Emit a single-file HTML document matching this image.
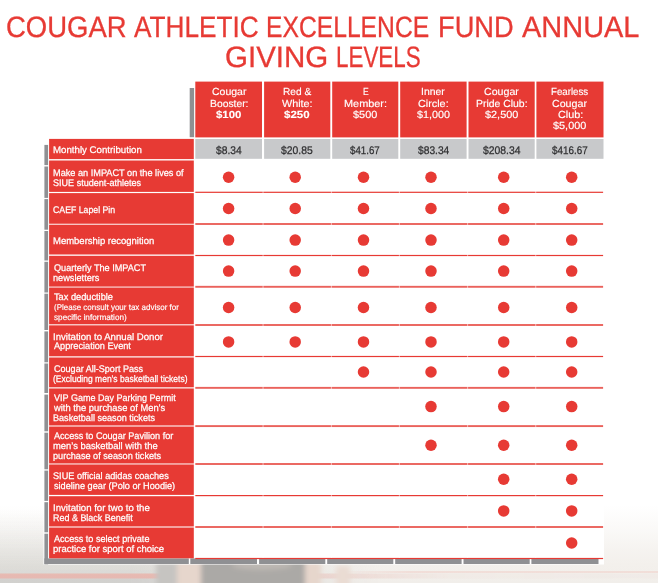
<!DOCTYPE html>
<html><head><meta charset="utf-8"><title>CAEF Giving Levels</title>
<style>
html,body{margin:0;padding:0;}
body{width:658px;height:583px;position:relative;overflow:hidden;background:#fff;font-family:"Liberation Sans",sans-serif;text-rendering:geometricPrecision;}
.bg{position:absolute;left:0;top:0;width:658px;height:583px;}
svg{position:absolute;left:0;top:0;}
.t{position:absolute;white-space:pre;transform-origin:0 0;display:block;}
</style></head><body>
<div class="bg" style="background:linear-gradient(to bottom,rgba(243,240,236,0) 505px,rgba(243,240,236,.4) 530px,rgba(243,240,236,.8) 550px,rgba(243,240,236,1) 564px,rgba(241,238,234,1) 583px);"></div>
<div class="bg" style="background:linear-gradient(to bottom,rgba(208,208,204,0) 510px,rgba(208,208,204,.1) 525px,rgba(208,208,204,.3) 545px,rgba(208,208,204,.6) 566px,rgba(208,208,204,.7) 574px,rgba(206,205,203,.9) 580px,rgba(206,205,203,.9) 583px);-webkit-mask-image:linear-gradient(to right,#000 0,#000 130px,rgba(0,0,0,.5) 250px,transparent 380px);mask-image:linear-gradient(to right,#000 0,#000 130px,rgba(0,0,0,.5) 250px,transparent 380px);"></div>
<div class="bg" style="background:linear-gradient(to bottom,rgba(232,182,174,0) 572.5px,rgba(232,182,174,.9) 574.5px,rgba(232,182,174,.9) 577.5px,rgba(232,182,174,0) 579.5px);-webkit-mask-image:linear-gradient(to right,#000 0,#000 150px,rgba(0,0,0,.4) 340px,rgba(0,0,0,.08) 450px,rgba(0,0,0,.05) 658px);mask-image:linear-gradient(to right,#000 0,#000 150px,rgba(0,0,0,.4) 340px,rgba(0,0,0,.08) 450px,rgba(0,0,0,.05) 658px);"></div>
<div style="position:absolute;left:330px;top:571px;width:328px;height:1.6px;background:linear-gradient(to right,rgba(240,190,182,0),rgba(240,190,182,.35) 80px,rgba(240,190,182,.35))"></div>
<svg width="658" height="583" viewBox="0 0 658 583">
<defs><filter id="bl" x="-20%" y="-20%" width="140%" height="140%"><feGaussianBlur stdDeviation="2.4"/></filter></defs>
<g filter="url(#bl)">
<rect x="156" y="562" width="22" height="30" fill="#C6C4C1"/>
<rect x="177" y="562" width="25" height="30" fill="#E6D6CC"/>
<rect x="304" y="562" width="17" height="30" fill="#E6D6CC"/>
<rect x="336" y="566" width="14" height="30" fill="#EADCD3"/>
<rect x="201" y="560" width="104" height="30" fill="#ABA9A6"/>
<ellipse cx="262" cy="565" rx="30" ry="5" fill="#BDB8B3"/>
</g>
<rect x="43.5" y="138.7" width="560.5" height="425.8" fill="#fff"/>
<rect x="189" y="81.6" width="415" height="60" fill="#fff"/>
<rect x="44.4" y="144.9" width="3.7" height="20.2" fill="#8F9093"/>
<rect x="44.4" y="166.5" width="3.7" height="31.4" fill="#8F9093"/>
<rect x="44.4" y="199.1" width="3.7" height="30.6" fill="#8F9093"/>
<rect x="44.4" y="231.0" width="3.7" height="29.5" fill="#8F9093"/>
<rect x="44.4" y="261.8" width="3.7" height="30.7" fill="#8F9093"/>
<rect x="44.4" y="293.7" width="3.7" height="36.3" fill="#8F9093"/>
<rect x="44.4" y="331.4" width="3.7" height="30.9" fill="#8F9093"/>
<rect x="44.4" y="363.5" width="3.7" height="29.5" fill="#8F9093"/>
<rect x="44.4" y="394.6" width="3.7" height="36.7" fill="#8F9093"/>
<rect x="44.4" y="432.7" width="3.7" height="36.6" fill="#8F9093"/>
<rect x="44.4" y="470.6" width="3.7" height="30.3" fill="#8F9093"/>
<rect x="44.4" y="502.2" width="3.7" height="30.1" fill="#8F9093"/>
<rect x="44.4" y="533.7" width="3.7" height="30.6" fill="#8F9093"/>
<rect x="44.4" y="558.4" width="144.4" height="5.6" fill="#8F9093"/>
<rect x="190.3" y="558.4" width="66.7" height="5.6" fill="#8F9093"/>
<rect x="259.1" y="558.4" width="66.2" height="5.6" fill="#8F9093"/>
<rect x="327.2" y="558.4" width="66.1" height="5.6" fill="#8F9093"/>
<rect x="395.2" y="558.4" width="66.4" height="5.6" fill="#8F9093"/>
<rect x="463.5" y="558.4" width="66.2" height="5.6" fill="#8F9093"/>
<rect x="531.4" y="558.4" width="67.1" height="5.6" fill="#8F9093"/>
<rect x="189.7" y="88.0" width="4.4" height="49.2" fill="#8F9093"/>
<rect x="195.3" y="81.6" width="66.7" height="55.8" fill="#E73A34"/>
<rect x="195.3" y="139.0" width="66.7" height="19.8" fill="#C8C9CB"/>
<rect x="264.1" y="81.6" width="66.2" height="55.8" fill="#E73A34"/>
<rect x="264.1" y="139.0" width="66.2" height="19.8" fill="#C8C9CB"/>
<rect x="332.2" y="81.6" width="66.1" height="55.8" fill="#E73A34"/>
<rect x="332.2" y="139.0" width="66.1" height="19.8" fill="#C8C9CB"/>
<rect x="400.2" y="81.6" width="66.4" height="55.8" fill="#E73A34"/>
<rect x="400.2" y="139.0" width="66.4" height="19.8" fill="#C8C9CB"/>
<rect x="468.5" y="81.6" width="66.2" height="55.8" fill="#E73A34"/>
<rect x="468.5" y="139.0" width="66.2" height="19.8" fill="#C8C9CB"/>
<rect x="536.4" y="81.6" width="67.1" height="55.8" fill="#E73A34"/>
<rect x="536.4" y="139.0" width="67.1" height="19.8" fill="#C8C9CB"/>
<rect x="49.1" y="138.9" width="144.7" height="20.2" fill="#E73A34"/>
<rect x="49.1" y="160.5" width="144.7" height="31.4" fill="#E73A34"/>
<rect x="49.1" y="193.1" width="144.7" height="30.6" fill="#E73A34"/>
<rect x="49.1" y="225.0" width="144.7" height="29.5" fill="#E73A34"/>
<rect x="49.1" y="255.8" width="144.7" height="30.7" fill="#E73A34"/>
<rect x="49.1" y="287.7" width="144.7" height="36.3" fill="#E73A34"/>
<rect x="49.1" y="325.4" width="144.7" height="30.9" fill="#E73A34"/>
<rect x="49.1" y="357.5" width="144.7" height="29.5" fill="#E73A34"/>
<rect x="49.1" y="388.6" width="144.7" height="36.7" fill="#E73A34"/>
<rect x="49.1" y="426.7" width="144.7" height="36.6" fill="#E73A34"/>
<rect x="49.1" y="464.6" width="144.7" height="30.3" fill="#E73A34"/>
<rect x="49.1" y="496.2" width="144.7" height="30.1" fill="#E73A34"/>
<rect x="49.1" y="527.7" width="144.7" height="30.6" fill="#E73A34"/>
<rect x="49.1" y="223.60" width="144.7" height="1.50" fill="#E73A34" opacity="0.3"/>
<rect x="49.1" y="286.40" width="144.7" height="1.40" fill="#E73A34" opacity="0.3"/>
<rect x="49.1" y="323.90" width="144.7" height="1.60" fill="#E73A34" opacity="0.3"/>
<rect x="49.1" y="386.90" width="144.7" height="1.80" fill="#E73A34" opacity="0.3"/>
<rect x="49.1" y="425.20" width="144.7" height="1.60" fill="#E73A34" opacity="0.3"/>
<rect x="49.1" y="463.20" width="144.7" height="1.50" fill="#E73A34" opacity="0.3"/>
<rect x="49.1" y="526.20" width="144.7" height="1.60" fill="#E73A34" opacity="0.3"/>
<rect x="195.3" y="191.70" width="407.8" height="1.2" fill="#E73A34"/>
<rect x="195.3" y="223.05" width="407.8" height="1.9" fill="#EA625C"/>
<rect x="195.3" y="254.90" width="407.8" height="1.2" fill="#E73A34"/>
<rect x="195.3" y="285.85" width="407.8" height="1.9" fill="#EA625C"/>
<rect x="195.3" y="324.05" width="407.8" height="1.9" fill="#EA625C"/>
<rect x="195.3" y="355.90" width="407.8" height="1.2" fill="#E73A34"/>
<rect x="195.3" y="386.90" width="407.8" height="1.9" fill="#EA625C"/>
<rect x="195.3" y="425.15" width="407.8" height="1.9" fill="#EA625C"/>
<rect x="195.3" y="463.05" width="407.8" height="1.9" fill="#EA625C"/>
<rect x="195.3" y="495.00" width="407.8" height="1.2" fill="#E73A34"/>
<rect x="195.3" y="526.05" width="407.8" height="1.9" fill="#EA625C"/>
<rect x="195.3" y="557.90" width="407.8" height="1.2" fill="#E73A34"/>
<rect x="262.6" y="159" width="0.9" height="399" fill="#fff" opacity="0.6"/>
<rect x="330.9" y="159" width="0.9" height="399" fill="#fff" opacity="0.6"/>
<rect x="398.9" y="159" width="0.9" height="399" fill="#fff" opacity="0.6"/>
<rect x="467.2" y="159" width="0.9" height="399" fill="#fff" opacity="0.6"/>
<rect x="535.3" y="159" width="0.9" height="399" fill="#fff" opacity="0.6"/>
<circle cx="228.6" cy="177.3" r="5.75" fill="#E73A34"/>
<circle cx="295.2" cy="177.3" r="5.75" fill="#E73A34"/>
<circle cx="363.5" cy="177.3" r="5.75" fill="#E73A34"/>
<circle cx="431.0" cy="177.3" r="5.75" fill="#E73A34"/>
<circle cx="503.7" cy="177.3" r="5.75" fill="#E73A34"/>
<circle cx="571.7" cy="177.3" r="5.75" fill="#E73A34"/>
<circle cx="228.6" cy="208.5" r="5.75" fill="#E73A34"/>
<circle cx="295.2" cy="208.5" r="5.75" fill="#E73A34"/>
<circle cx="363.5" cy="208.5" r="5.75" fill="#E73A34"/>
<circle cx="431.0" cy="208.5" r="5.75" fill="#E73A34"/>
<circle cx="503.7" cy="208.5" r="5.75" fill="#E73A34"/>
<circle cx="571.7" cy="208.5" r="5.75" fill="#E73A34"/>
<circle cx="228.6" cy="240.1" r="5.75" fill="#E73A34"/>
<circle cx="295.2" cy="240.1" r="5.75" fill="#E73A34"/>
<circle cx="363.5" cy="240.1" r="5.75" fill="#E73A34"/>
<circle cx="431.0" cy="240.1" r="5.75" fill="#E73A34"/>
<circle cx="503.7" cy="240.1" r="5.75" fill="#E73A34"/>
<circle cx="571.7" cy="240.1" r="5.75" fill="#E73A34"/>
<circle cx="228.6" cy="271.1" r="5.75" fill="#E73A34"/>
<circle cx="295.2" cy="271.1" r="5.75" fill="#E73A34"/>
<circle cx="363.5" cy="271.1" r="5.75" fill="#E73A34"/>
<circle cx="431.0" cy="271.1" r="5.75" fill="#E73A34"/>
<circle cx="503.7" cy="271.1" r="5.75" fill="#E73A34"/>
<circle cx="571.7" cy="271.1" r="5.75" fill="#E73A34"/>
<circle cx="228.6" cy="307.5" r="5.75" fill="#E73A34"/>
<circle cx="295.2" cy="307.5" r="5.75" fill="#E73A34"/>
<circle cx="363.5" cy="307.5" r="5.75" fill="#E73A34"/>
<circle cx="431.0" cy="307.5" r="5.75" fill="#E73A34"/>
<circle cx="503.7" cy="307.5" r="5.75" fill="#E73A34"/>
<circle cx="571.7" cy="307.5" r="5.75" fill="#E73A34"/>
<circle cx="228.6" cy="341.9" r="5.75" fill="#E73A34"/>
<circle cx="295.2" cy="341.9" r="5.75" fill="#E73A34"/>
<circle cx="363.5" cy="341.9" r="5.75" fill="#E73A34"/>
<circle cx="431.0" cy="341.9" r="5.75" fill="#E73A34"/>
<circle cx="503.7" cy="341.9" r="5.75" fill="#E73A34"/>
<circle cx="571.7" cy="341.9" r="5.75" fill="#E73A34"/>
<circle cx="363.5" cy="372.0" r="5.75" fill="#E73A34"/>
<circle cx="431.0" cy="372.0" r="5.75" fill="#E73A34"/>
<circle cx="503.7" cy="372.0" r="5.75" fill="#E73A34"/>
<circle cx="571.7" cy="372.0" r="5.75" fill="#E73A34"/>
<circle cx="431.0" cy="406.6" r="5.75" fill="#E73A34"/>
<circle cx="503.7" cy="406.6" r="5.75" fill="#E73A34"/>
<circle cx="571.7" cy="406.6" r="5.75" fill="#E73A34"/>
<circle cx="431.0" cy="445.3" r="5.75" fill="#E73A34"/>
<circle cx="503.7" cy="445.3" r="5.75" fill="#E73A34"/>
<circle cx="571.7" cy="445.3" r="5.75" fill="#E73A34"/>
<circle cx="503.7" cy="479.2" r="5.75" fill="#E73A34"/>
<circle cx="571.7" cy="479.2" r="5.75" fill="#E73A34"/>
<circle cx="503.7" cy="510.9" r="5.75" fill="#E73A34"/>
<circle cx="571.7" cy="510.9" r="5.75" fill="#E73A34"/>
<circle cx="571.7" cy="543.0" r="5.75" fill="#E73A34"/>
</svg>
<span class="t" style="left:53.22px;top:146px;font-size:9.6px;line-height:9.6px;transform:scaleX(1.0094);color:#fff;-webkit-text-stroke:0.25px #fff;">Monthly Contribution</span>
<span class="t" style="left:53.27px;top:169px;font-size:9.6px;line-height:9.6px;transform:scaleX(0.9557);color:#fff;-webkit-text-stroke:0.25px #fff;">Make an IMPACT on the lives of</span>
<span class="t" style="left:53.15px;top:179px;font-size:9.6px;line-height:9.6px;transform:scaleX(0.9444);color:#fff;-webkit-text-stroke:0.25px #fff;">SIUE student-athletes</span>
<span class="t" style="left:53.26px;top:206px;font-size:9.6px;line-height:9.6px;transform:scaleX(0.9107);color:#fff;-webkit-text-stroke:0.25px #fff;">CAEF Lapel Pin</span>
<span class="t" style="left:53.24px;top:237px;font-size:9.6px;line-height:9.6px;transform:scaleX(0.9892);color:#fff;-webkit-text-stroke:0.25px #fff;">Membership recognition</span>
<span class="t" style="left:53.54px;top:264px;font-size:9.6px;line-height:9.6px;transform:scaleX(0.9521);color:#fff;-webkit-text-stroke:0.25px #fff;">Quarterly The IMPACT</span>
<span class="t" style="left:53.36px;top:274px;font-size:9.6px;line-height:9.6px;transform:scaleX(0.9575);color:#fff;-webkit-text-stroke:0.25px #fff;">newsletters</span>
<span class="t" style="left:53.82px;top:293px;font-size:9.6px;line-height:9.6px;transform:scaleX(0.9610);color:#fff;-webkit-text-stroke:0.25px #fff;">Tax deductible</span>
<span class="t" style="left:53.52px;top:303px;font-size:8.3px;line-height:8.3px;transform:scaleX(0.9637);color:#fff;-webkit-text-stroke:0.15px #fff;">(Please consult your tax advisor for</span>
<span class="t" style="left:53.75px;top:313px;font-size:8.3px;line-height:8.3px;transform:scaleX(0.9858);color:#fff;-webkit-text-stroke:0.15px #fff;">specific information)</span>
<span class="t" style="left:53.14px;top:333px;font-size:9.6px;line-height:9.6px;transform:scaleX(1.0004);color:#fff;-webkit-text-stroke:0.25px #fff;">Invitation to Annual Donor</span>
<span class="t" style="left:54.00px;top:342px;font-size:9.6px;line-height:9.6px;transform:scaleX(0.9548);color:#fff;-webkit-text-stroke:0.25px #fff;">Appreciation Event</span>
<span class="t" style="left:53.55px;top:365px;font-size:9.6px;line-height:9.6px;transform:scaleX(0.9434);color:#fff;-webkit-text-stroke:0.25px #fff;">Cougar All-Sport Pass</span>
<span class="t" style="left:53.19px;top:375px;font-size:9.6px;line-height:9.6px;transform:scaleX(0.8864);color:#fff;-webkit-text-stroke:0.25px #fff;">(Excluding men’s basketball tickets)</span>
<span class="t" style="left:53.91px;top:394px;font-size:9.6px;line-height:9.6px;transform:scaleX(0.9404);color:#fff;-webkit-text-stroke:0.25px #fff;">VIP Game Day Parking Permit</span>
<span class="t" style="left:54.00px;top:404px;font-size:9.6px;line-height:9.6px;transform:scaleX(0.9757);color:#fff;-webkit-text-stroke:0.25px #fff;">with the purchase of Men’s</span>
<span class="t" style="left:53.27px;top:414px;font-size:9.6px;line-height:9.6px;transform:scaleX(0.9470);color:#fff;-webkit-text-stroke:0.25px #fff;">Basketball season tickets</span>
<span class="t" style="left:54.00px;top:432px;font-size:9.6px;line-height:9.6px;transform:scaleX(0.9478);color:#fff;-webkit-text-stroke:0.25px #fff;">Access to Cougar Pavilion for</span>
<span class="t" style="left:53.34px;top:442px;font-size:9.6px;line-height:9.6px;transform:scaleX(0.9775);color:#fff;-webkit-text-stroke:0.25px #fff;">men’s basketball with the</span>
<span class="t" style="left:53.45px;top:452px;font-size:9.6px;line-height:9.6px;transform:scaleX(0.9521);color:#fff;-webkit-text-stroke:0.25px #fff;">purchase of season tickets</span>
<span class="t" style="left:53.14px;top:472px;font-size:9.6px;line-height:9.6px;transform:scaleX(0.9530);color:#fff;-webkit-text-stroke:0.25px #fff;">SIUE official adidas coaches</span>
<span class="t" style="left:53.73px;top:482px;font-size:9.6px;line-height:9.6px;transform:scaleX(0.9545);color:#fff;-webkit-text-stroke:0.25px #fff;">sideline gear (Polo or Hoodie)</span>
<span class="t" style="left:53.13px;top:504px;font-size:9.6px;line-height:9.6px;transform:scaleX(1.0029);color:#fff;-webkit-text-stroke:0.25px #fff;">Invitation for two to the</span>
<span class="t" style="left:53.28px;top:514px;font-size:9.6px;line-height:9.6px;transform:scaleX(0.9341);color:#fff;-webkit-text-stroke:0.25px #fff;">Red &amp; Black Benefit</span>
<span class="t" style="left:54.00px;top:535px;font-size:9.6px;line-height:9.6px;transform:scaleX(0.9471);color:#fff;-webkit-text-stroke:0.25px #fff;">Access to select private</span>
<span class="t" style="left:53.43px;top:545px;font-size:9.6px;line-height:9.6px;transform:scaleX(0.9870);color:#fff;-webkit-text-stroke:0.25px #fff;">practice for sport of choice</span>
<span class="t" style="left:5.63px;top:13px;font-size:29.5px;line-height:29.5px;transform:scaleX(0.9316);color:#E73A34;-webkit-text-stroke:0.3px #E73A34;">COUGAR</span>
<span class="t" style="left:133.80px;top:13px;font-size:29.5px;line-height:29.5px;transform:scaleX(0.8877);color:#E73A34;-webkit-text-stroke:0.3px #E73A34;">ATHLETIC</span>
<span class="t" style="left:265.53px;top:13px;font-size:29.5px;line-height:29.5px;transform:scaleX(0.8362);color:#E73A34;-webkit-text-stroke:0.3px #E73A34;">EXCELLENCE</span>
<span class="t" style="left:437.92px;top:13px;font-size:29.5px;line-height:29.5px;transform:scaleX(0.9236);color:#E73A34;-webkit-text-stroke:0.3px #E73A34;">FUND</span>
<span class="t" style="left:522.40px;top:13px;font-size:29.5px;line-height:29.5px;transform:scaleX(0.9815);color:#E73A34;-webkit-text-stroke:0.3px #E73A34;">ANNUAL</span>
<span class="t" style="left:224.93px;top:43px;font-size:29.5px;line-height:29.5px;transform:scaleX(0.9999);color:#E73A34;-webkit-text-stroke:0.3px #E73A34;">GIVING</span>
<span class="t" style="left:335.71px;top:43px;font-size:29.5px;line-height:29.5px;transform:scaleX(0.7588);color:#E73A34;-webkit-text-stroke:0.3px #E73A34;">LEVELS</span>
<span class="t" style="left:211.58px;top:88px;font-size:10.3px;line-height:10.3px;transform:scaleX(1.0193);color:#fff;-webkit-text-stroke:0.15px #fff;">Cougar</span>
<span class="t" style="left:209.67px;top:100px;font-size:10.3px;line-height:10.3px;transform:scaleX(1.0036);color:#fff;-webkit-text-stroke:0.15px #fff;">Booster:</span>
<span class="t" style="left:215.99px;top:111px;font-size:10.3px;line-height:10.3px;transform:scaleX(1.1096);color:#fff;-webkit-text-stroke:0.1px #fff;font-weight:bold;">$100</span>
<span class="t" style="left:216.00px;top:146px;font-size:11px;line-height:11px;transform:scaleX(0.9349);color:#2f2f31;-webkit-text-stroke:0.25px #2f2f31;">$8.34</span>
<span class="t" style="left:282.89px;top:88px;font-size:10.3px;line-height:10.3px;transform:scaleX(0.9854);color:#fff;-webkit-text-stroke:0.15px #fff;">Red &amp;</span>
<span class="t" style="left:282.19px;top:100px;font-size:10.3px;line-height:10.3px;transform:scaleX(1.0491);color:#fff;-webkit-text-stroke:0.15px #fff;">White:</span>
<span class="t" style="left:283.98px;top:111px;font-size:10.3px;line-height:10.3px;transform:scaleX(1.1185);color:#fff;-webkit-text-stroke:0.1px #fff;font-weight:bold;">$250</span>
<span class="t" style="left:280.90px;top:146px;font-size:11px;line-height:11px;transform:scaleX(0.9423);color:#2f2f31;-webkit-text-stroke:0.25px #2f2f31;">$20.85</span>
<span class="t" style="left:362.52px;top:88px;font-size:10.3px;line-height:10.3px;transform:scaleX(0.8297);color:#fff;-webkit-text-stroke:0.15px #fff;">E</span>
<span class="t" style="left:343.83px;top:100px;font-size:10.3px;line-height:10.3px;transform:scaleX(1.0582);color:#fff;-webkit-text-stroke:0.15px #fff;">Member:</span>
<span class="t" style="left:352.89px;top:111px;font-size:10.3px;line-height:10.3px;transform:scaleX(1.0599);color:#fff;-webkit-text-stroke:0.15px #fff;">$500</span>
<span class="t" style="left:350.20px;top:146px;font-size:11px;line-height:11px;transform:scaleX(0.8848);color:#2f2f31;-webkit-text-stroke:0.25px #2f2f31;">$41.67</span>
<span class="t" style="left:420.86px;top:88px;font-size:10.3px;line-height:10.3px;transform:scaleX(1.0111);color:#fff;-webkit-text-stroke:0.15px #fff;">Inner</span>
<span class="t" style="left:418.16px;top:100px;font-size:10.3px;line-height:10.3px;transform:scaleX(1.0503);color:#fff;-webkit-text-stroke:0.15px #fff;">Circle:</span>
<span class="t" style="left:416.89px;top:111px;font-size:10.3px;line-height:10.3px;transform:scaleX(1.0483);color:#fff;-webkit-text-stroke:0.15px #fff;">$1,000</span>
<span class="t" style="left:417.60px;top:146px;font-size:11px;line-height:11px;transform:scaleX(0.9302);color:#2f2f31;-webkit-text-stroke:0.25px #2f2f31;">$83.34</span>
<span class="t" style="left:483.97px;top:88px;font-size:10.3px;line-height:10.3px;transform:scaleX(1.0314);color:#fff;-webkit-text-stroke:0.15px #fff;">Cougar</span>
<span class="t" style="left:475.87px;top:100px;font-size:10.3px;line-height:10.3px;transform:scaleX(1.0115);color:#fff;-webkit-text-stroke:0.15px #fff;">Pride Club:</span>
<span class="t" style="left:484.89px;top:111px;font-size:10.3px;line-height:10.3px;transform:scaleX(1.0580);color:#fff;-webkit-text-stroke:0.15px #fff;">$2,500</span>
<span class="t" style="left:482.60px;top:146px;font-size:11px;line-height:11px;transform:scaleX(0.9446);color:#2f2f31;-webkit-text-stroke:0.25px #2f2f31;">$208.34</span>
<span class="t" style="left:551.02px;top:88px;font-size:10.3px;line-height:10.3px;transform:scaleX(0.9422);color:#fff;-webkit-text-stroke:0.15px #fff;">Fearless</span>
<span class="t" style="left:552.17px;top:100px;font-size:10.3px;line-height:10.3px;transform:scaleX(1.0344);color:#fff;-webkit-text-stroke:0.15px #fff;">Cougar</span>
<span class="t" style="left:557.86px;top:111px;font-size:10.3px;line-height:10.3px;transform:scaleX(1.0503);color:#fff;-webkit-text-stroke:0.15px #fff;">Club:</span>
<span class="t" style="left:553.29px;top:122px;font-size:10.3px;line-height:10.3px;transform:scaleX(1.0580);color:#fff;-webkit-text-stroke:0.15px #fff;">$5,000</span>
<span class="t" style="left:552.00px;top:146px;font-size:11px;line-height:11px;transform:scaleX(0.8963);color:#2f2f31;-webkit-text-stroke:0.25px #2f2f31;">$416.67</span>
</body></html>
